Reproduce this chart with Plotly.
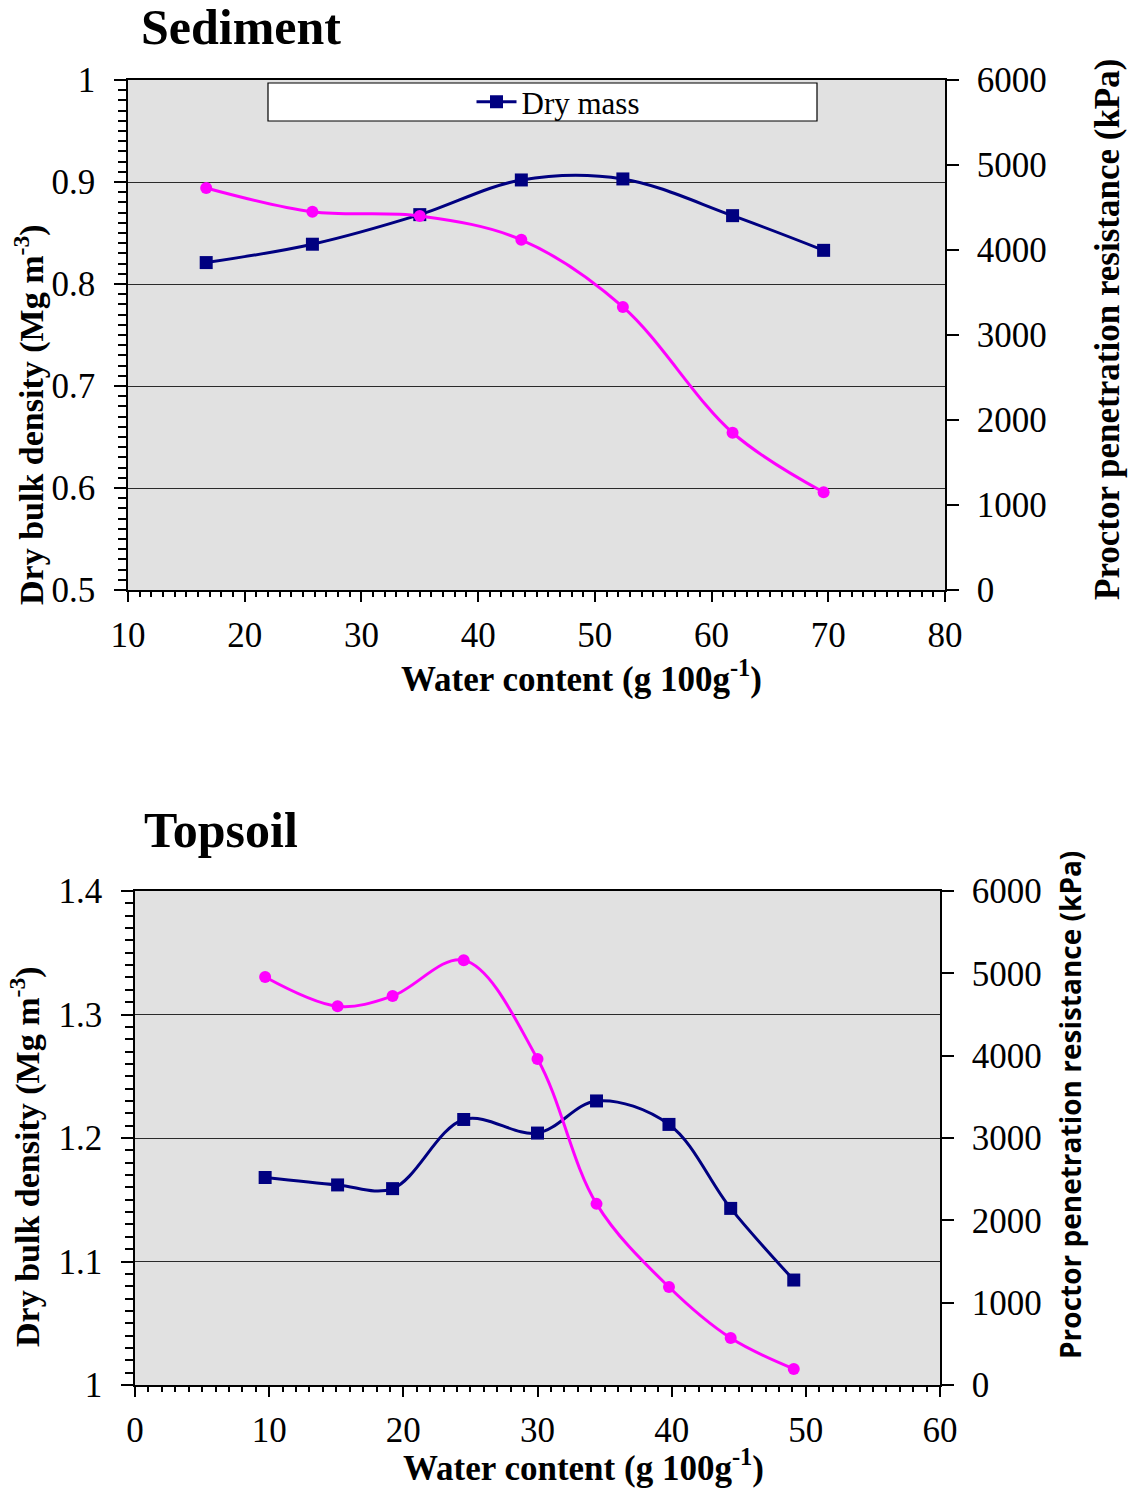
import plotly.graph_objects as go

# ---------------- data ----------------
sed_water = [16.7, 25.8, 35.0, 43.7, 52.4, 61.8, 69.6]
sed_density = [0.821, 0.839, 0.868, 0.902, 0.903, 0.867, 0.833]
sed_resistance = [4730, 4450, 4400, 4120, 3330, 1850, 1150]

top_water = [9.7, 15.1, 19.2, 24.5, 30.0, 34.4, 39.8, 44.4, 49.1]
top_density = [1.168, 1.162, 1.159, 1.215, 1.204, 1.230, 1.211, 1.143, 1.085]
top_resistance = [4955, 4600, 4725, 5160, 3960, 2200, 1190, 570, 195]

W, H = 1131, 1489
SERIF = "Liberation Serif"
SANS = "Open Sans"
NAVY = "#000080"
MAG = "#ff00ff"
BG = "#e1e1e1"

def px_x(p):
    return p / W

def px_y(p):
    return 1 - p / H

# plot areas in pixels
top_x = (128, 945); top_y = (80, 590)
bot_x = (135, 940); bot_y = (891, 1385)

fig = go.Figure()

fig.add_trace(go.Scatter(x=sed_water, y=sed_density, name="Dry mass", mode="lines+markers",
                         line=dict(color=NAVY, width=3, shape="spline", smoothing=1),
                         marker=dict(symbol="square", size=13, color=NAVY),
                         xaxis="x", yaxis="y"))
fig.add_trace(go.Scatter(x=sed_water, y=sed_resistance, name="Resistance", mode="lines+markers",
                         line=dict(color=MAG, width=3, shape="spline", smoothing=1),
                         marker=dict(symbol="circle", size=12, color=MAG),
                         xaxis="x", yaxis="y2", showlegend=False))
fig.add_trace(go.Scatter(x=top_water, y=top_density, name="Dry mass", mode="lines+markers",
                         line=dict(color=NAVY, width=3, shape="spline", smoothing=1),
                         marker=dict(symbol="square", size=13, color=NAVY),
                         xaxis="x2", yaxis="y3", showlegend=False))
fig.add_trace(go.Scatter(x=top_water, y=top_resistance, name="Resistance", mode="lines+markers",
                         line=dict(color=MAG, width=3, shape="spline", smoothing=1),
                         marker=dict(symbol="circle", size=12, color=MAG),
                         xaxis="x2", yaxis="y4", showlegend=False))

def tfont():
    return dict(family=SERIF, size=35, color="black")

def xaxis(dom, rng, anchor):
    return dict(domain=dom, range=rng, anchor=anchor, dtick=10, tick0=0,
                ticks="outside", ticklen=10, tickcolor="black", tickwidth=1.5,
                showline=True, linecolor="black", linewidth=1.5, mirror=True,
                showgrid=False, zeroline=False, tickfont=tfont(), automargin=False,
                ticklabelstandoff=3,
                minor=dict(dtick=1, ticks="outside", ticklen=5, tickcolor="black", showgrid=False))

def yleft(dom, rng, anchor, dt):
    return dict(domain=dom, range=rng, anchor=anchor, dtick=dt, tick0=0,
                ticks="outside", ticklen=12, tickcolor="black", tickwidth=1.5,
                showline=True, linecolor="black", linewidth=1.5, automargin=False,
                showgrid=True, gridcolor="#2a2a2a", gridwidth=1, zeroline=False,
                tickfont=tfont(), ticklabelstandoff=12,
                minor=dict(dtick=0.01, ticks="outside", ticklen=8, tickcolor="black", showgrid=False))

def yright(overlay, anchor):
    return dict(overlaying=overlay, side="right", anchor=anchor, range=[0, 6000], dtick=1000,
                ticks="outside", ticklen=12, tickcolor="black", tickwidth=1.5, automargin=False,
                showline=True, linecolor="black", linewidth=1.5, showgrid=False, zeroline=False,
                tickfont=tfont(), ticklabelstandoff=11)

def yinside(overlay, anchor):
    return dict(overlaying=overlay, side="right", anchor=anchor, range=[0, 6000], dtick=1000,
                ticks="inside", ticklen=12, tickcolor="black", tickwidth=1.5, automargin=False,
                showticklabels=False, showline=False, showgrid=False, zeroline=False)

fig.update_layout(
    width=W, height=H, margin=dict(l=0, r=0, t=0, b=0, autoexpand=False),
    font=dict(family=SERIF, color="black"),
    paper_bgcolor="white", plot_bgcolor=BG,
    xaxis=xaxis([px_x(top_x[0]), px_x(top_x[1])], [10, 80], "y"),
    yaxis=yleft([px_y(top_y[1]), px_y(top_y[0])], [0.5, 1.0], "x", 0.1),
    yaxis2=yright("y", "x"),
    yaxis5=yinside("y", "x"),
    xaxis2=xaxis([px_x(bot_x[0]), px_x(bot_x[1])], [0, 60], "y3"),
    yaxis3=yleft([px_y(bot_y[1]), px_y(bot_y[0])], [1.0, 1.4], "x2", 0.1),
    yaxis4=yright("y3", "x2"),
    yaxis6=yinside("y3", "x2"),
    showlegend=True,
    legend=dict(x=px_x(558), y=px_y(102), xanchor="center", yanchor="middle",
                bgcolor="rgba(0,0,0,0)", borderwidth=0,
                font=dict(family=SERIF, size=31, color="black"), itemwidth=40),
)

# legend box
fig.add_shape(type="rect", xref="paper", yref="paper",
              x0=px_x(268), x1=px_x(817), y0=px_y(121), y1=px_y(83),
              fillcolor="white", line=dict(color="black", width=1.2), layer="above")

ann = []
ann.append(dict(text="<b>Sediment</b>", x=px_x(139), y=px_y(27), xanchor="left", yanchor="middle",
                font=dict(family=SERIF, size=50, color="black")))
ann.append(dict(text="<b>Topsoil</b>", x=px_x(142), y=px_y(830), xanchor="left", yanchor="middle",
                font=dict(family=SERIF, size=50, color="black")))
ann.append(dict(text="<b>Water content (g 100g<sup>-1</sup>)</b>", x=px_x(581), y=px_y(676),
                xanchor="center", yanchor="middle", font=dict(family=SERIF, size=35, color="black")))
ann.append(dict(text="<b>Water content (g 100g<sup>-1</sup>)</b>", x=px_x(583), y=px_y(1465),
                xanchor="center", yanchor="middle", font=dict(family=SERIF, size=35, color="black")))
ann.append(dict(text="<b>Dry bulk density (Mg m<sup>-3</sup>)</b>", x=px_x(29), y=px_y(415),
                textangle=-90, xanchor="center", yanchor="middle",
                font=dict(family=SERIF, size=34, color="black")))
ann.append(dict(text="<b>Dry bulk density (Mg m<sup>-3</sup>)</b>", x=px_x(25), y=px_y(1157),
                textangle=-90, xanchor="center", yanchor="middle",
                font=dict(family=SERIF, size=34, color="black")))
ann.append(dict(text="<b>Proctor penetration resistance (kPa)</b>", x=px_x(1107), y=px_y(330),
                textangle=-90, xanchor="center", yanchor="middle",
                font=dict(family=SERIF, size=35, color="black")))
ann.append(dict(text="<b>Proctor penetration resistance (kPa)</b>", x=px_x(1070), y=px_y(1105),
                textangle=-90, xanchor="center", yanchor="middle",
                font=dict(family=SANS, size=28, color="black")))
for a in ann:
    a.update(xref="paper", yref="paper", showarrow=False)
fig.update_layout(annotations=ann)

fig.write_html("out.html")
